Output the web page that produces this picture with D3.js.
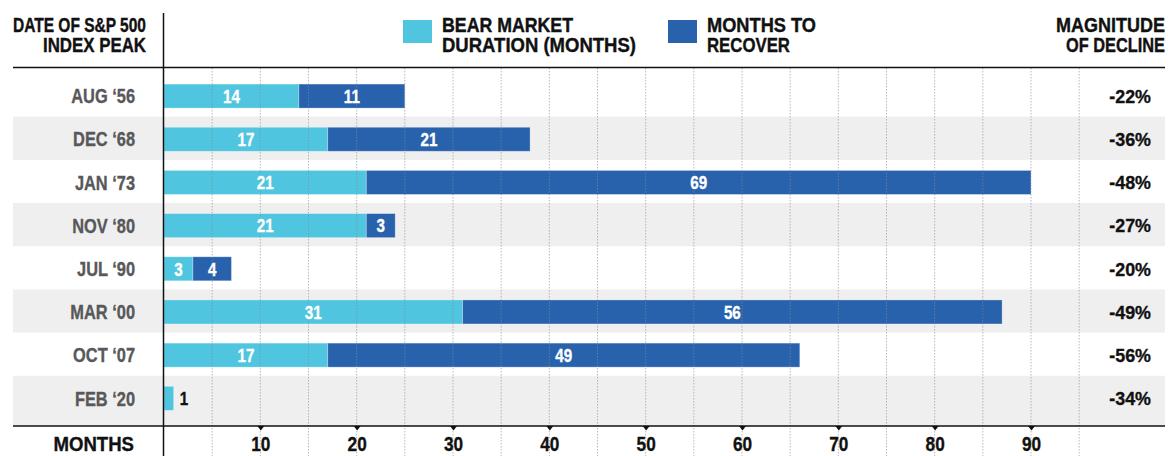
<!DOCTYPE html>
<html><head><meta charset="utf-8">
<script src="https://cdn.jsdelivr.net/npm/d3@7"></script>
<style>
body{margin:0;background:#fff}
svg{display:block}
text{font-family:"Liberation Sans",Arial,sans-serif;font-weight:700}
</style>
</head><body>
<svg id="c" width="1168" height="456"></svg>
<script>
const peaks = ["AUG ‘56","DEC ‘68","JAN ‘73","NOV ‘80","JUL ‘90","MAR ‘00","OCT ‘07","FEB ‘20"];
const bearMonths = [14,17,21,21,3,31,17,1];
const recoverMonths = [11,21,69,3,4,56,49,0];
const declines = ["-22%","-36%","-48%","-27%","-20%","-49%","-56%","-34%"];
const xTicks = [10,20,30,40,50,60,70,80,90];
const gridValues = d3.range(5,100,5);
const seriesNames = [["BEAR MARKET","DURATION (MONTHS)"],["MONTHS TO","RECOVER"]];
const colors = ["#4fc5df","#2862ad"];

const svg = d3.select("#c");
const x = d3.scaleLinear().domain([0,90]).range([164,1031]);
const y = d3.scaleBand().domain(peaks).range([73.5,418.9]).paddingInner(0);
const bw = y.bandwidth(), barH = 24;
const axisY = 426, left = 13, right = 1165;

// condensed text helper (horizontal scale only)
function stext(parent, xx, yy, str, o){
  return parent.append("text")
    .attr("transform",`translate(${xx},${yy}) scale(${o.sx},1)`)
    .attr("text-anchor",o.anchor||"start")
    .attr("dy",o.dy||0)
    .attr("font-size",o.size)
    .attr("fill",o.fill||"#111")
    .attr("stroke",o.fill||"#111").attr("stroke-width",0.35)
    .text(str);
}

// alternating bands
svg.append("g").selectAll("rect").data(peaks.filter((d,i)=>i%2===1)).join("rect")
  .attr("x",left).attr("width",right-left)
  .attr("y",d=>y(d))
  .attr("height",(d)=> d===peaks[peaks.length-1] ? axisY - y(d) : bw)
  .attr("fill","#efefef");

// bars
const rows = peaks.map((p,i)=>({p, a:bearMonths[i], b:recoverMonths[i], dec:declines[i]}));
const segs = [];
rows.forEach(r=>{
  segs.push({p:r.p, x0:0, x1:r.a, v:r.a, c:0});
  if (r.b>0) segs.push({p:r.p, x0:r.a, x1:r.a+r.b, v:r.b, c:1});
});
const barY = d=> y(d)+bw/2-barH/2+1;
const midY = d=> barY(d)+barH/2;
svg.append("g").selectAll("rect").data(segs).join("rect")
  .attr("x",d=>x(d.x0)).attr("width",d=>x(d.x1)-x(d.x0))
  .attr("y",d=>barY(d.p)).attr("height",barH)
  .attr("fill",d=>colors[d.c])
  .attr("stroke","rgba(255,255,255,0.35)").attr("stroke-width",0.8);

// gridlines
svg.append("g").selectAll("line").data(gridValues).join("line")
  .attr("x1",d=>x(d)).attr("x2",d=>x(d))
  .attr("y1",68).attr("y2",456)
  .attr("stroke","#8a8a8a").attr("stroke-opacity",0.6)
  .attr("stroke-width",1).attr("stroke-dasharray","1.5,1.5");

// bar value labels
const gl = svg.append("g");
segs.forEach(d=>{
  const w = x(d.x1)-x(d.x0), out = w<20;
  stext(gl, out ? x(d.x1)+6 : (x(d.x0)+x(d.x1))/2, midY(d.p), d.v,
    {sx:0.8, size:19, anchor: out?"start":"middle", dy:"0.36em", fill: out?"#111":"#fff"});
});

// row labels & declines
rows.forEach(r=>{
  stext(gl, 135, midY(r.p), r.p, {sx:0.82, size:20, anchor:"end", dy:"0.36em", fill:"#58585a"});
  stext(gl, 1151, midY(r.p), r.dec, {sx:0.94, size:19, anchor:"end", dy:"0.36em", fill:"#111"});
});

// structure lines
svg.append("line").attr("x1",163.5).attr("x2",163.5).attr("y1",13).attr("y2",456).attr("stroke","#111").attr("stroke-width",1.5);
svg.append("line").attr("x1",left).attr("x2",right).attr("y1",67.5).attr("y2",67.5).attr("stroke","#111").attr("stroke-width",1.5);
svg.append("line").attr("x1",left).attr("x2",right).attr("y1",axisY).attr("y2",axisY).attr("stroke","#111").attr("stroke-width",1.5);

// x axis
const ax = svg.append("g").attr("transform",`translate(0,${axisY})`)
  .call(d3.axisBottom(x).tickValues(xTicks).tickSize(0).tickPadding(0));
ax.select(".domain").remove();
ax.selectAll("text").attr("y",25).attr("dy",0).attr("font-size",20).attr("fill","#111")
  .attr("stroke","#111").attr("stroke-width",0.35)
  .attr("font-family",null).attr("transform","scale(0.86,1)");
ax.selectAll(".tick").append("path").attr("d","M-3.5,0L3.5,0L0,4.5Z").attr("fill","#111");

stext(svg, 134, 451, "MONTHS", {sx:0.93, size:20, anchor:"end"});

// headers: one text per block, each line fitted to measured width
function hblock(lines, xx, anchor, lens){
  const t = svg.append("text").attr("text-anchor",anchor)
    .attr("font-size",20.5).attr("fill","#111")
    .attr("stroke","#111").attr("stroke-width",0.4);
  lines.forEach((l,j)=>t.append("tspan").attr("x",xx).attr("y",31.7+j*20.3)
    .attr("textLength",lens[j]).attr("lengthAdjust","spacingAndGlyphs").text(l));
}
hblock(["DATE OF S&P 500","INDEX PEAK"],146,"end",[133,103]);
hblock(["MAGNITUDE","OF DECLINE"],1165,"end",[109,99]);

// legend
const legX = [403,668];
const legW = [[131,194],[109,83]];
seriesNames.forEach((n,i)=>{
  svg.append("rect").attr("x",legX[i]).attr("y",20).attr("width",29).attr("height",23).attr("fill",colors[i]);
  hblock(n, legX[i]+39, "start", legW[i]);
});
</script>
</body></html>
